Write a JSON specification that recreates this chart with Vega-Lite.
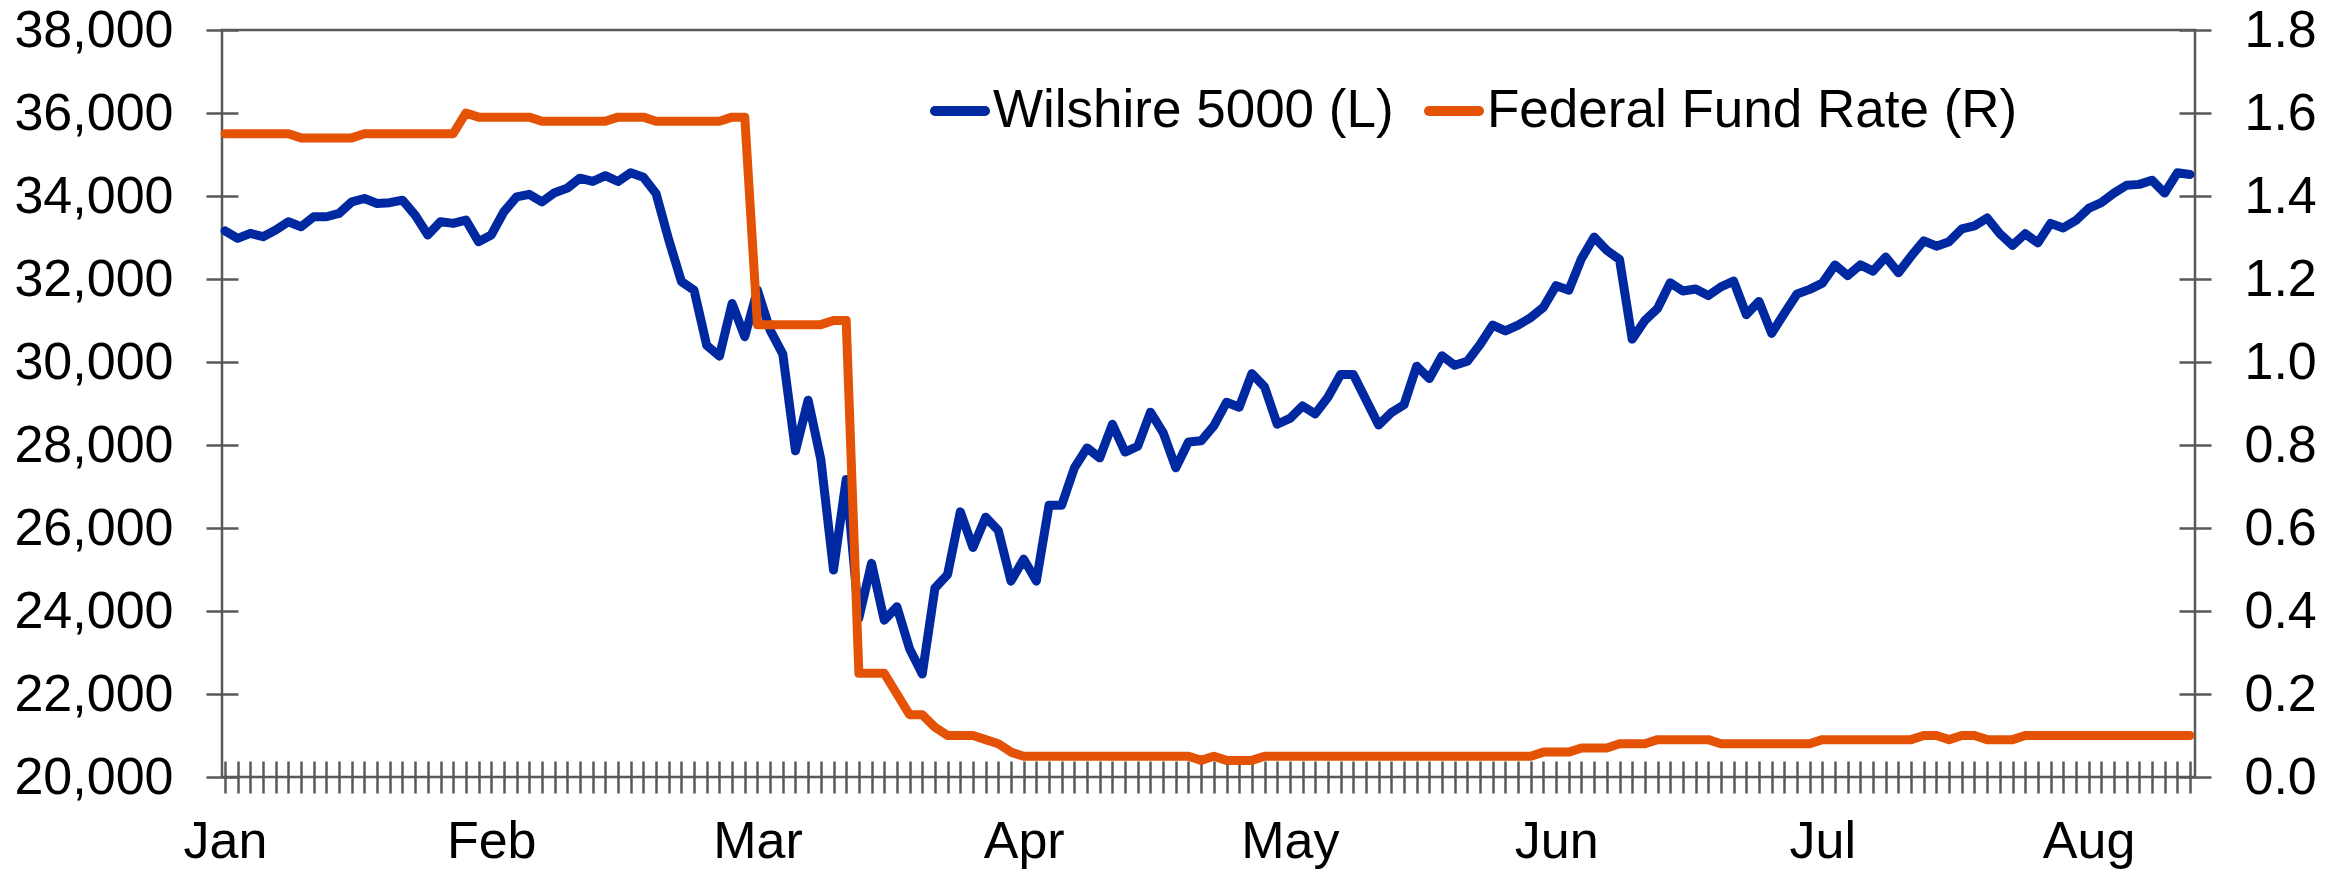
{
  "$schema": "https://vega.github.io/schema/vega-lite/v6.json",
  "width": 1973,
  "height": 747,
  "autosize": {"type": "none"},
  "padding": {"left": 222, "top": 30, "right": 151, "bottom": 93},
  "background": "white",
  "config": {
    "view": {"stroke": "#595959", "strokeWidth": 2.5},
    "font": "Liberation Sans"
  },
  "data": {"values": [
    {"d":"2020-01-02","w":33160,"r":1.55},{"d":"2020-01-03","w":32980,"r":1.55},{"d":"2020-01-06","w":33100,"r":1.55},{"d":"2020-01-07","w":33020,"r":1.55},{"d":"2020-01-08","w":33180,"r":1.55},{"d":"2020-01-09","w":33380,"r":1.55},
    {"d":"2020-01-10","w":33260,"r":1.54},{"d":"2020-01-13","w":33500,"r":1.54},{"d":"2020-01-14","w":33500,"r":1.54},{"d":"2020-01-15","w":33580,"r":1.54},{"d":"2020-01-16","w":33860,"r":1.54},
    {"d":"2020-01-17","w":33940,"r":1.55},{"d":"2020-01-21","w":33820,"r":1.55},{"d":"2020-01-22","w":33840,"r":1.55},{"d":"2020-01-23","w":33900,"r":1.55},{"d":"2020-01-24","w":33540,"r":1.55},{"d":"2020-01-27","w":33060,"r":1.55},{"d":"2020-01-28","w":33380,"r":1.55},{"d":"2020-01-29","w":33340,"r":1.55},
    {"d":"2020-01-30","w":33420,"r":1.60},{"d":"2020-01-31","w":32900,"r":1.59},{"d":"2020-02-03","w":33060,"r":1.59},{"d":"2020-02-04","w":33620,"r":1.59},{"d":"2020-02-05","w":33980,"r":1.59},{"d":"2020-02-06","w":34040,"r":1.59},
    {"d":"2020-02-07","w":33860,"r":1.58},{"d":"2020-02-10","w":34080,"r":1.58},{"d":"2020-02-11","w":34190,"r":1.58},{"d":"2020-02-12","w":34430,"r":1.58},{"d":"2020-02-13","w":34350,"r":1.58},{"d":"2020-02-14","w":34490,"r":1.58},
    {"d":"2020-02-18","w":34350,"r":1.59},{"d":"2020-02-19","w":34560,"r":1.59},{"d":"2020-02-20","w":34450,"r":1.59},
    {"d":"2020-02-21","w":34060,"r":1.58},{"d":"2020-02-24","w":32950,"r":1.58},{"d":"2020-02-25","w":31940,"r":1.58},{"d":"2020-02-26","w":31730,"r":1.58},{"d":"2020-02-27","w":30400,"r":1.58},{"d":"2020-02-28","w":30140,"r":1.58},
    {"d":"2020-03-02","w":31410,"r":1.59},{"d":"2020-03-03","w":30610,"r":1.59},
    {"d":"2020-03-04","w":31730,"r":1.09},{"d":"2020-03-05","w":30770,"r":1.09},{"d":"2020-03-06","w":30190,"r":1.09},{"d":"2020-03-09","w":27860,"r":1.09},{"d":"2020-03-10","w":29080,"r":1.09},{"d":"2020-03-11","w":27650,"r":1.09},
    {"d":"2020-03-12","w":24990,"r":1.10},{"d":"2020-03-13","w":27170,"r":1.10},
    {"d":"2020-03-16","w":23830,"r":0.25},{"d":"2020-03-17","w":25150,"r":0.25},{"d":"2020-03-18","w":23780,"r":0.25},{"d":"2020-03-19","w":24100,"r":0.20},{"d":"2020-03-20","w":23090,"r":0.15},{"d":"2020-03-23","w":22480,"r":0.15},
    {"d":"2020-03-24","w":24550,"r":0.12},{"d":"2020-03-25","w":24880,"r":0.10},{"d":"2020-03-26","w":26390,"r":0.10},{"d":"2020-03-27","w":25530,"r":0.10},{"d":"2020-03-30","w":26260,"r":0.09},{"d":"2020-03-31","w":25940,"r":0.08},
    {"d":"2020-04-01","w":24720,"r":0.06},{"d":"2020-04-02","w":25250,"r":0.05},{"d":"2020-04-03","w":24720,"r":0.05},{"d":"2020-04-06","w":26550,"r":0.05},{"d":"2020-04-07","w":26550,"r":0.05},{"d":"2020-04-08","w":27450,"r":0.05},
    {"d":"2020-04-09","w":27930,"r":0.05},{"d":"2020-04-13","w":27690,"r":0.05},{"d":"2020-04-14","w":28500,"r":0.05},{"d":"2020-04-15","w":27830,"r":0.05},{"d":"2020-04-16","w":27970,"r":0.05},{"d":"2020-04-17","w":28790,"r":0.05},
    {"d":"2020-04-20","w":28300,"r":0.05},{"d":"2020-04-21","w":27450,"r":0.05},{"d":"2020-04-22","w":28070,"r":0.05},{"d":"2020-04-23","w":28100,"r":0.04},{"d":"2020-04-24","w":28460,"r":0.05},{"d":"2020-04-27","w":29030,"r":0.04},
    {"d":"2020-04-28","w":28910,"r":0.04},{"d":"2020-04-29","w":29720,"r":0.04},{"d":"2020-04-30","w":29400,"r":0.05},{"d":"2020-05-01","w":28500,"r":0.05},{"d":"2020-05-04","w":28640,"r":0.05},{"d":"2020-05-05","w":28940,"r":0.05},
    {"d":"2020-05-06","w":28750,"r":0.05},{"d":"2020-05-07","w":29150,"r":0.05},{"d":"2020-05-08","w":29700,"r":0.05},{"d":"2020-05-11","w":29700,"r":0.05},{"d":"2020-05-12","w":29090,"r":0.05},{"d":"2020-05-13","w":28480,"r":0.05},
    {"d":"2020-05-14","w":28780,"r":0.05},{"d":"2020-05-15","w":28970,"r":0.05},{"d":"2020-05-18","w":29900,"r":0.05},{"d":"2020-05-19","w":29600,"r":0.05},{"d":"2020-05-20","w":30150,"r":0.05},{"d":"2020-05-21","w":29920,"r":0.05},
    {"d":"2020-05-22","w":30020,"r":0.05},{"d":"2020-05-26","w":30420,"r":0.05},{"d":"2020-05-27","w":30890,"r":0.05},{"d":"2020-05-28","w":30750,"r":0.05},{"d":"2020-05-29","w":30890,"r":0.05},{"d":"2020-06-01","w":31070,"r":0.05},
    {"d":"2020-06-02","w":31320,"r":0.06},{"d":"2020-06-03","w":31840,"r":0.06},{"d":"2020-06-04","w":31730,"r":0.06},{"d":"2020-06-05","w":32490,"r":0.07},{"d":"2020-06-08","w":33010,"r":0.07},{"d":"2020-06-09","w":32690,"r":0.07},
    {"d":"2020-06-10","w":32470,"r":0.08},{"d":"2020-06-11","w":30550,"r":0.08},{"d":"2020-06-12","w":31000,"r":0.08},{"d":"2020-06-15","w":31290,"r":0.09},{"d":"2020-06-16","w":31910,"r":0.09},{"d":"2020-06-17","w":31710,"r":0.09},
    {"d":"2020-06-18","w":31760,"r":0.09},{"d":"2020-06-19","w":31600,"r":0.09},{"d":"2020-06-22","w":31810,"r":0.08},{"d":"2020-06-23","w":31950,"r":0.08},{"d":"2020-06-24","w":31140,"r":0.08},{"d":"2020-06-25","w":31460,"r":0.08},
    {"d":"2020-06-26","w":30690,"r":0.08},{"d":"2020-06-29","w":31170,"r":0.08},{"d":"2020-06-30","w":31640,"r":0.08},{"d":"2020-07-01","w":31750,"r":0.08},{"d":"2020-07-02","w":31900,"r":0.09},{"d":"2020-07-06","w":32340,"r":0.09},
    {"d":"2020-07-07","w":32080,"r":0.09},{"d":"2020-07-08","w":32340,"r":0.09},{"d":"2020-07-09","w":32190,"r":0.09},{"d":"2020-07-10","w":32530,"r":0.09},{"d":"2020-07-13","w":32150,"r":0.09},{"d":"2020-07-14","w":32550,"r":0.09},
    {"d":"2020-07-15","w":32920,"r":0.10},{"d":"2020-07-16","w":32790,"r":0.10},{"d":"2020-07-17","w":32900,"r":0.09},{"d":"2020-07-20","w":33210,"r":0.10},{"d":"2020-07-21","w":33280,"r":0.10},{"d":"2020-07-22","w":33470,"r":0.09},
    {"d":"2020-07-23","w":33090,"r":0.09},{"d":"2020-07-24","w":32810,"r":0.09},{"d":"2020-07-27","w":33090,"r":0.10},{"d":"2020-07-28","w":32870,"r":0.10},{"d":"2020-07-29","w":33340,"r":0.10},{"d":"2020-07-30","w":33230,"r":0.10},
    {"d":"2020-07-31","w":33410,"r":0.10},{"d":"2020-08-03","w":33700,"r":0.10},{"d":"2020-08-04","w":33840,"r":0.10},{"d":"2020-08-05","w":34070,"r":0.10},{"d":"2020-08-06","w":34260,"r":0.10},{"d":"2020-08-07","w":34280,"r":0.10},
    {"d":"2020-08-10","w":34380,"r":0.10},{"d":"2020-08-11","w":34070,"r":0.10},{"d":"2020-08-12","w":34560,"r":0.10},{"d":"2020-08-13","w":34520,"r":0.10}
  ]},
  "encoding": {
    "x": {
      "field": "d",
      "type": "ordinal",
      "scale": {"type": "point", "padding": 0, "range": [3, 1968]},
      "axis": {
        "orient": "bottom",
        "title": null,
        "domain": false,
        "grid": false,
        "ticks": true,
        "tickSize": 32,
        "tickWidth": 2.5,
        "tickColor": "#595959",
        "offset": -16,
        "labelPadding": 23,
        "labelAngle": 0,
        "labelOverlap": false,
        "labelBound": false,
        "labelFlush": false,
        "labelFont": "Liberation Sans",
        "labelFontSize": 52,
        "labelColor": "#000000",
        "labelExpr": "indexof(['2020-01-02','2020-02-03','2020-03-04','2020-04-02','2020-05-04','2020-06-03','2020-07-02','2020-08-03'], datum.value) >= 0 ? ['Jan','Feb','Mar','Apr','May','Jun','Jul','Aug'][indexof(['2020-01-02','2020-02-03','2020-03-04','2020-04-02','2020-05-04','2020-06-03','2020-07-02','2020-08-03'], datum.value)] : ''"
      }
    }
  },
  "layer": [
    {
      "mark": {"type": "line", "strokeWidth": 9, "strokeJoin": "round", "strokeCap": "round"},
      "encoding": {
        "y": {
          "field": "w",
          "type": "quantitative",
          "scale": {"domain": [20000, 38000], "nice": false, "zero": false},
          "axis": {
            "orient": "left",
            "title": null,
            "values": [20000, 22000, 24000, 26000, 28000, 30000, 32000, 34000, 36000, 38000],
            "format": ",.0f",
            "domain": false,
            "grid": false,
            "ticks": true,
            "tickSize": 32,
            "tickWidth": 2.5,
            "tickColor": "#595959",
            "offset": -16,
            "labelPadding": 33,
            "labelFont": "Liberation Sans",
            "labelFontSize": 52,
            "labelColor": "#000000"
          }
        },
        "color": {
          "datum": "Wilshire 5000 (L)",
          "type": "nominal",
          "scale": {"domain": ["Wilshire 5000 (L)", "Federal Fund Rate (R)"], "range": ["#0028A0", "#E35205"]},
          "legend": {
            "orient": "none",
            "legendX": 708,
            "legendY": 51,
            "direction": "horizontal",
            "title": null,
            "padding": 0,
            "labelFont": "Liberation Sans",
            "labelFontSize": 53,
            "labelColor": "#000000",
            "labelLimit": 0,
            "labelOffset": 3,
            "columnPadding": 15,
            "symbolType": "stroke",
            "symbolSize": 2500,
            "symbolStrokeWidth": 10,
            "encode": {"symbols": {"update": {"strokeCap": {"value": "round"}}}}
          }
        }
      }
    },
    {
      "mark": {"type": "line", "strokeWidth": 9, "strokeJoin": "round", "strokeCap": "round"},
      "encoding": {
        "y": {
          "field": "r",
          "type": "quantitative",
          "scale": {"domain": [0, 1.8], "nice": false},
          "axis": {
            "orient": "right",
            "title": null,
            "values": [0, 0.2, 0.4, 0.6, 0.8, 1.0, 1.2, 1.4, 1.6, 1.8],
            "format": ".1f",
            "domain": false,
            "grid": false,
            "ticks": true,
            "tickSize": 32,
            "tickWidth": 2.5,
            "tickColor": "#595959",
            "offset": -16,
            "labelPadding": 33,
            "labelFont": "Liberation Sans",
            "labelFontSize": 52,
            "labelColor": "#000000"
          }
        },
        "color": {"datum": "Federal Fund Rate (R)", "type": "nominal"}
      }
    }
  ],
  "resolve": {"scale": {"y": "independent"}}
}
